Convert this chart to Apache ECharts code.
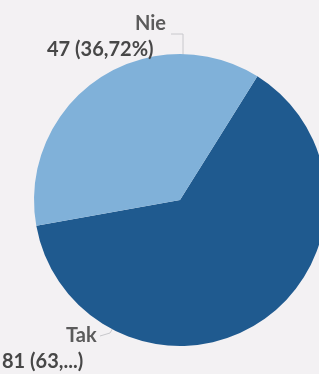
<!DOCTYPE html>
<html>
<head>
<meta charset="utf-8">
<script src="https://cdn.jsdelivr.net/npm/echarts@6/dist/echarts.min.js"></script>
<style>
  html, body { margin: 0; padding: 0; background: #f3f1f3; }
  #chart { width: 319px; height: 374px; }
</style>
</head>
<body>
<div id="chart"></div>
<script>
// answers and counts
var categories = ['Tak', 'Nie'];
var counts = [81, 47];
var colors = ['#1f5a8f', '#80b1d9'];

var total = counts.reduce(function (a, b) { return a + b; }, 0);

// percent with a comma, like the original; the Tak label was cut short there
function valueText(i) {
    var pct = (counts[i] / total * 100).toFixed(2).replace('.', ',');
    if (categories[i] === 'Tak') return counts[i] + ' (' + pct.slice(0, 3) + '...)';
    return counts[i] + ' (' + pct + '%)';
}

// label block: left edge, top, indent of the name line, leader line
var labelSpots = {
    Nie: { x: 47, y: 10, indent: 88, line: [[183, 57], [183, 34], [171, 34]] },
    Tak: { x: 2, y: 322, indent: 64, line: [[117, 321], [110, 333], [100, 336]] }
};

var baseFont = { fontFamily: 'Lato', fontWeight: 'bold', fontSize: 20 };

var chart = echarts.init(document.getElementById('chart'));
chart.setOption({
    backgroundColor: '#f3f1f3',
    animation: false,
    series: [{
        type: 'pie',
        center: [180, 200],
        radius: 146,
        startAngle: 58,
        clockwise: true,
        avoidLabelOverlap: false,
        data: categories.map(function (c, i) {
            return {
                name: c, value: counts[i], itemStyle: { color: colors[i] },
                label: {
                    rich: {
                        n: Object.assign({ color: '#5b5b5b', lineHeight: 27, align: 'left', padding: [0, 0, 0, labelSpots[c].indent] }, baseFont),
                        v: Object.assign({ color: '#474747', lineHeight: 25, align: 'left' }, baseFont)
                    }
                }
            };
        }),
        label: {
            show: true,
            position: 'outside',
            overflow: 'none',
            align: 'left',
            formatter: function (p) {
                return '{n|' + p.name + '}\n{v|' + valueText(p.dataIndex) + '}';
            }
        },
        labelLine: { show: true, lineStyle: { color: '#c8c8cc', width: 1 } },
        labelLayout: function (params) {
            var s = labelSpots[categories[params.dataIndex]];
            return {
                x: s.x, y: s.y, align: 'left', verticalAlign: 'top',
                hideOverlap: false,
                labelLinePoints: s.line
            };
        }
    }]
});
</script>
</body>
</html>
